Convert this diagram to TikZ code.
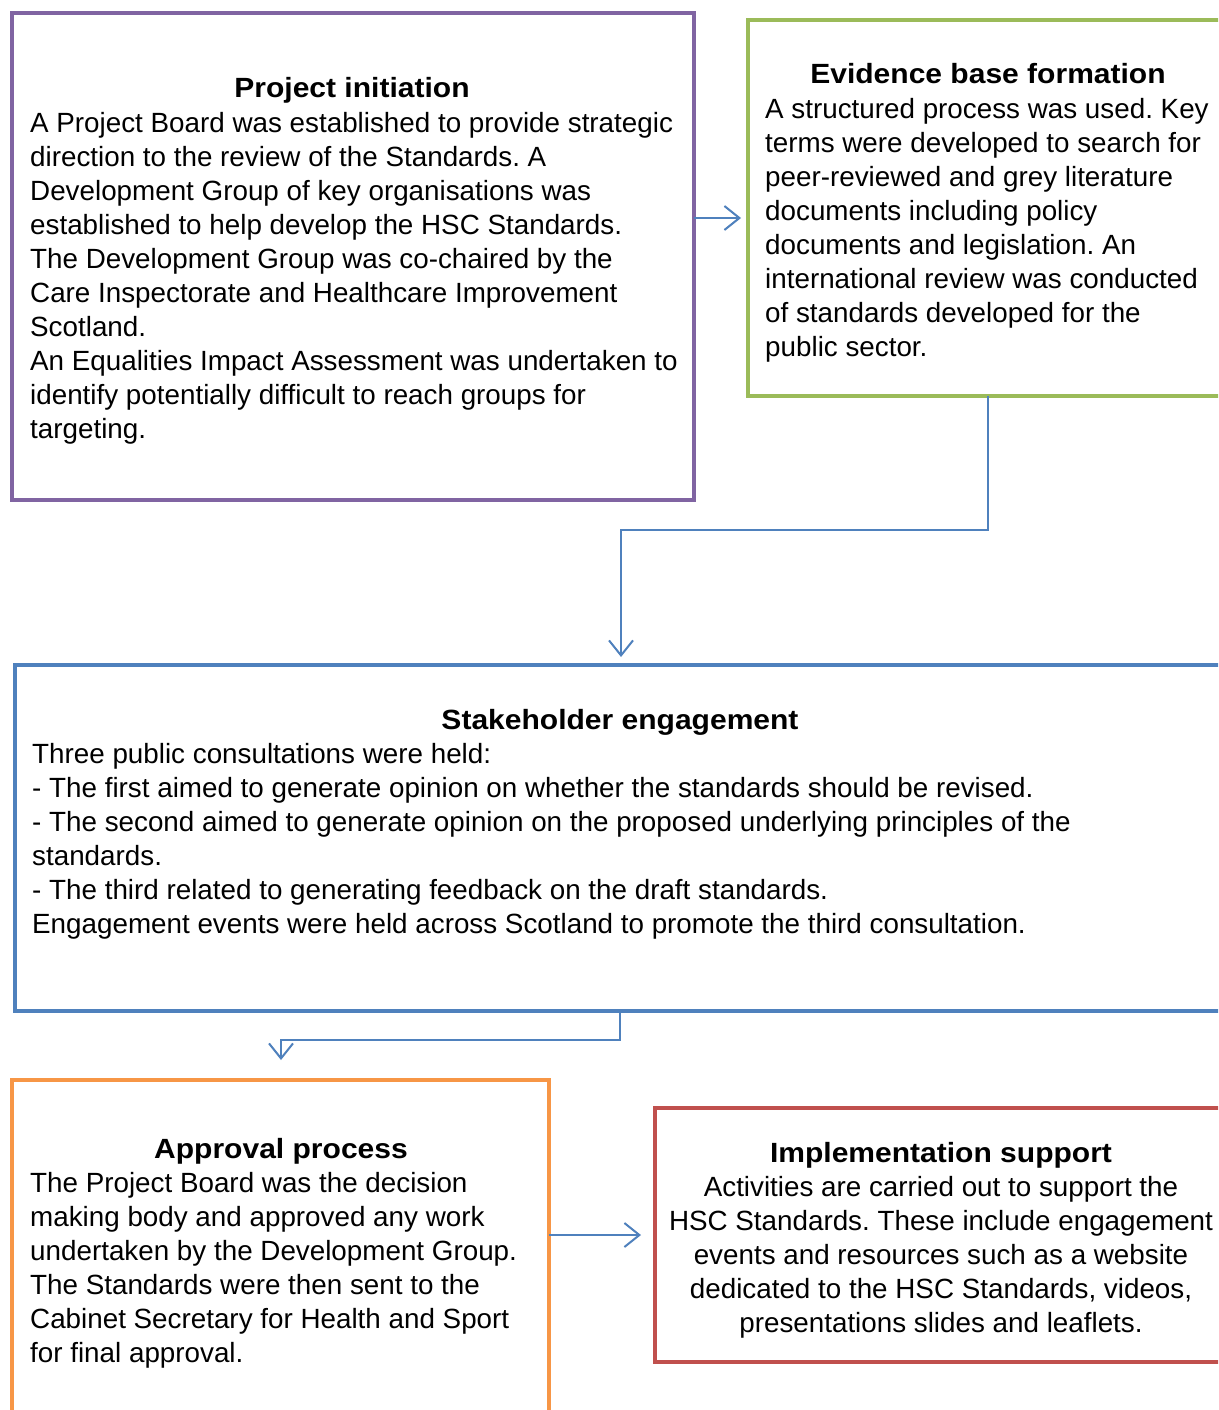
\documentclass[tikz,border=0pt]{standalone}
\usepackage{fontspec}
\setmainfont{Liberation Sans}
\newfontfamily\headfont[FakeStretch=1.08]{Liberation Sans}
\usetikzlibrary{arrows.meta}
\definecolor{initcol}{HTML}{8064A2}
\definecolor{evidcol}{HTML}{9BBB59}
\definecolor{stakecol}{HTML}{4F81BD}
\definecolor{apprcol}{HTML}{F79646}
\definecolor{implcol}{HTML}{C0504D}
\definecolor{linkcol}{HTML}{4F81BD}
\frenchspacing
\begin{document}
\begin{tikzpicture}[x=1pt,y=-1pt,
  panel/.style={draw, line width=4.5pt, rectangle, inner sep=0pt, outer sep=0pt, anchor=north west},
  body/.style={font=\fontsize{27.8}{34}\selectfont, inner sep=0pt, align=left, anchor=base west},
  cbody/.style={font=\fontsize{27.8}{34}\selectfont, inner sep=0pt, align=center, anchor=base},
  head/.style={font=\headfont\bfseries\fontsize{27.8}{34}\selectfont, inner sep=0pt, anchor=base},
  link/.style={draw=linkcol, line width=2pt, -{Straight Barb[length=15pt,width=24pt,line width=2pt]}}]
\useasboundingbox (0,0) rectangle (1218,1410);
\clip (0,0) rectangle (1218,1410);
\fill[white] (0,0) rectangle (1218,1410);

% panels
\node[panel, draw=initcol, minimum width=682pt, minimum height=487pt] (init) at (12,13) {};
\node[panel, draw=evidcol, minimum width=492pt, minimum height=376pt] (evid) at (748,20) {};
\node[panel, draw=stakecol, minimum width=1225pt, minimum height=346pt] (stake) at (15,665) {};
\node[panel, draw=apprcol, minimum width=537pt, minimum height=380pt] (appr) at (12,1080) {};
\node[panel, draw=implcol, minimum width=585pt, minimum height=254pt] (impl) at (655,1108) {};

% project initiation (body placed by the baseline of its last line)
\node[head] (initT) at (352,98) {Project initiation};
\node[body] (initB) at (30,438) {A Project Board was established to provide strategic\\
direction to the review of the Standards. A\\
Development Group of key organisations was\\
established to help develop the HSC Standards.\\
The Development Group was co-chaired by the\\
Care Inspectorate and Healthcare Improvement\\
Scotland.\\
An Equalities Impact Assessment was undertaken to\\
identify potentially difficult to reach groups for\\
targeting.};

% evidence base
\node[head] (evidT) at (988,84) {Evidence base formation};
\node[body] (evidB) at (765,356) {A structured process was used. Key\\
terms were developed to search for\\
peer-reviewed and grey literature\\
documents including policy\\
documents and legislation. An\\
international review was conducted\\
of standards developed for the\\
public sector.};

% stakeholder engagement
\node[head] (stakeT) at (620,729) {Stakeholder engagement};
\node[body] (stakeB) at (32,933) {Three public consultations were held:\\
- The first aimed to generate opinion on whether the standards should be revised.\\
- The second aimed to generate opinion on the proposed underlying principles of the\\
standards.\\
- The third related to generating feedback on the draft standards.\\
Engagement events were held across Scotland to promote the third consultation.};

% approval
\node[head] (apprT) at (281,1158) {Approval process};
\node[body] (apprB) at (30,1362) {The Project Board was the decision\\
making body and approved any work\\
undertaken by the Development Group.\\
The Standards were then sent to the\\
Cabinet Secretary for Health and Sport\\
for final approval.};

% implementation
\node[head] (implT) at (941,1162) {Implementation support};
\node[cbody] (implB) at (941,1332) {Activities are carried out to support the\\
HSC Standards. These include engagement\\
events and resources such as a website\\
dedicated to the HSC Standards, videos,\\
presentations slides and leaflets.};

% connectors
\draw[link, shorten >=7pt] (init.east |- 0,218) -- (evid.west |- 0,218);
\draw[link, shorten >=8pt] (evid.south -| 988,0) -- (988,530) -| (stake.north -| 621,0);
\draw[link, shorten >=20pt] (stake.south -| 620,0) -- (620,1040) -| (appr.north -| 281,0);
\draw[link, shorten >=14pt] (appr.east |- 0,1235) -- (impl.west |- 0,1235);
\end{tikzpicture}
\end{document}
